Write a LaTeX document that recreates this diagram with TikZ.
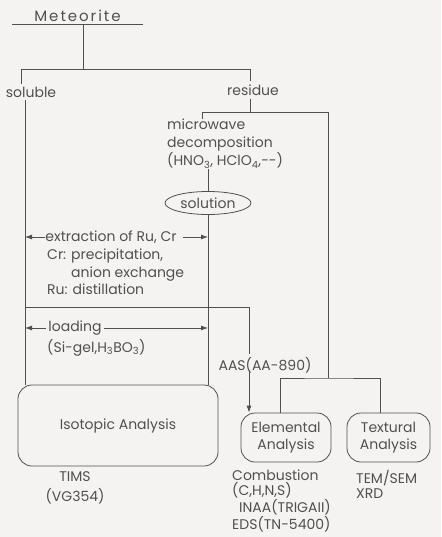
\documentclass[tikz,border=0pt]{standalone}
\usepackage{fontspec}
\setmainfont{Poppins}
\usepackage{tikz}
\usetikzlibrary{arrows.meta}
\usetikzlibrary{calc}
\usetikzlibrary{shapes}
\usetikzlibrary{positioning}
\definecolor{ink}{RGB}{80,80,80}
\definecolor{paper}{RGB}{245,243,242}

\begin{document}
\begin{tikzpicture}[
            x=1pt, y=-1pt,
            font=\fontsize{14}{17.5}\selectfont, text=ink,
            analysis/.style={
                draw=ink, line width=0.8pt, rounded corners=14pt,
                align=center, inner sep=0pt,
            },
            note/.style={
                align=left, inner sep=0pt, anchor=north west,
            },
            heading/.style={
                inner ysep=3pt, inner xsep=0pt,
            },
            flow/.style={-{Latex[length=7pt, width=5pt]}, line width=0.8pt, ink},
            plain/.style={line width=0.8pt, ink},
        ]
            \fill[paper] (0,0) rectangle (441,537);
            \useasboundingbox (0,0) rectangle (441,537);

            % --- top: meteorite and its split ---
            \node[heading, minimum width=131pt, inner ysep=2pt,
                  font=\fontsize{15}{17}\selectfont\addfontfeatures{LetterSpace=13}] (met) at (77.5,16) {Meteorite};
            \draw[plain] (met.south west) -- (met.south east);
            \node[heading] (sol) at (31,92) {soluble};
            \node[heading] (res) at (253,90) {residue};
            \coordinate (split) at (83,69);
            \coordinate (solTop) at (21,69);
            \coordinate (resTop) at (250,69);
            \draw[plain] (met.south -| split) -- (split);
            \draw[plain] (solTop |- sol.north) -- (solTop) -- (resTop) -- (resTop |- res.north);

            % --- residue branch ---
            \node[note, font=\fontsize{14}{18}\selectfont] (mw) at (167,119)
                {microwave\\decomposition\\(HNO\textsubscript{3}, HClO\textsubscript{4},-{}-)};
            \node[draw=ink, line width=0.8pt, ellipse, minimum width=86pt, minimum height=23pt,
                  inner sep=0pt] (soln) at (208,203) {solution};
            \coordinate (rsplit) at (250,112);
            \coordinate (mwTop) at (202,112);
            \coordinate (rightTop) at (328,112);
            \coordinate (tbus) at (328,378);
            \draw[plain] (rsplit |- res.south) -- (rsplit);
            \draw[plain] (mwTop |- mw.north) -- (mwTop) -- (rightTop) -- (tbus);
            \draw[plain] (soln.north |- mw.south) -- (soln.north);

            % --- analysis boxes ---
            \node[analysis, minimum width=200pt, minimum height=81pt] (iso) at (118,425.5) {Isotopic Analysis};
            \node[analysis, minimum width=90pt, minimum height=49pt] (ele) at (286,437.5) {Elemental\\Analysis};
            \node[analysis, minimum width=83pt, minimum height=49pt] (tex) at (388.5,437.5) {Textural\\Analysis};
            \draw[plain] ([xshift=-6pt]ele.north) |- (tbus) -| ([xshift=-8.5pt]tex.north);

            % --- soluble rail and solution rail ---
            \coordinate (leftRail) at (25,385);
            \draw[plain] (leftRail |- sol.south) -- (leftRail |- iso.north);
            \draw[plain] (soln.south) -- (soln.south |- iso.north);

            % --- chemical separation ---
            \node[inner xsep=0pt] (ext) at (111,237) {extraction of Ru, Cr};
            \draw[flow] (ext.west) -- (leftRail |- ext.west);
            \draw[flow] ([xshift=6pt]ext.east) -- (soln.south |- ext.east);
            \node[note] (sep) at (47,249)
                {Cr: precipitation,\\\phantom{Cr: }anion exchange\\Ru: distillation};

            % --- branch to AAS ---
            \coordinate (aasTurn) at (249,307);
            \node (aas) at (265,365) {AAS(AA-890)};
            \draw[plain] (leftRail |- aasTurn) -- (aasTurn) -- (aasTurn |- aas.north);
            \draw[flow] ([yshift=6pt]aas.south -| aasTurn) -- (aasTurn |- ele.north);

            % --- loading ---
            \node[inner xsep=2pt] (load) at (75,328) {loading};
            \draw[flow] (load.west) -- (leftRail |- load.west);
            \draw[flow] (load.east) -- (soln.south |- load.east);
            \node[note, anchor=west] (gel) at (47,348) {(Si-gel,H\textsubscript{3}BO\textsubscript{3})};

            % --- instruments ---
            \node[align=center, inner sep=0pt, font=\fontsize{14}{20}\selectfont,
                  below=5pt of iso.south, xshift=-43pt] (tims) {TIMS\\(VG354)};
            \node[note, font=\fontsize{14}{15}\selectfont] (eleInst) at (232,470)
                {Combustion\\(C,H,N,S)\\\hspace{7pt}INAA(TRIGAII)\\EDS(TN-5400)};
            \node[note, font=\fontsize{14}{15}\selectfont] (texInst) at (356,470) {TEM/SEM\\XRD};
        \end{tikzpicture}
\end{document}
